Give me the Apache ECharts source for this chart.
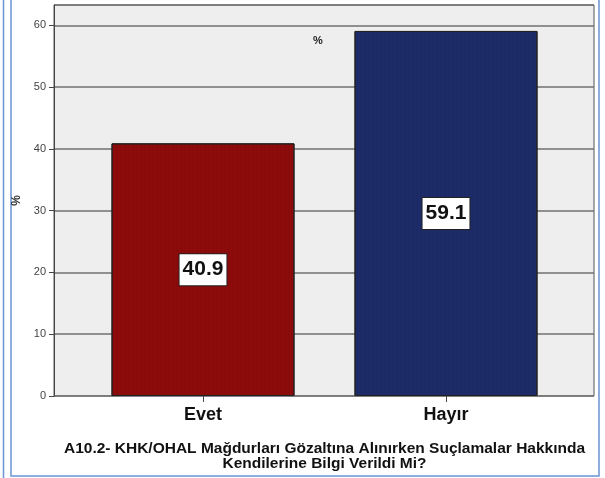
<!DOCTYPE html>
<html>
<head>
<meta charset="utf-8">
<script src="https://cdn.jsdelivr.net/npm/echarts@6/dist/echarts.min.js"></script>
<style>html,body{margin:0;padding:0;background:#fff;}#c{width:605px;height:478px;}</style>
</head>
<body>
<div id="c"></div>
<script>
const categories = ['Evet', 'Hayır'];
const values = [40.9, 59.1];
const barColors = ['#8e0b0b', '#1d2b68'];
const yTicks = [0, 10, 20, 30, 40, 50, 60];
const axisTitle = 'A10.2- KHK/OHAL Mağdurları Gözaltına Alınırken Suçlamalar Hakkında\nKendilerine Bilgi Verildi Mi?';
const yName = '%';

const chart = echarts.init(document.getElementById('c'), null, {renderer: 'canvas'});
const font = 'Arial, "Liberation Sans", sans-serif';
const yMax = 63.3;

chart.setOption({
  animation: false,
  backgroundColor: '#ffffff',
  grid: [
    {left: 54, top: 5, width: 540, height: 391, show: true, backgroundColor: '#eeeeee', borderColor: '#555', borderWidth: 1, outerBoundsMode: 'none', containLabel: false},
    {left: 81.5, top: 5, width: 486, height: 391, outerBoundsMode: 'none', containLabel: false}
  ],
  xAxis: [
    {gridIndex: 0, type: 'value', min: 0, max: 1, show: false},
    {gridIndex: 1, type: 'category', data: categories,
     axisLine: {show: false},
     axisTick: {show: true, alignWithLabel: true, length: 6, lineStyle: {color: '#444', width: 1}},
     axisLabel: {margin: 10, fontSize: 18, fontWeight: 'bold', color: '#111', fontFamily: font},
     name: axisTitle, nameLocation: 'middle', nameGap: 45,
     nameTextStyle: {fontSize: 15.5, fontWeight: 'bold', lineHeight: 15, color: '#111', fontFamily: font}}
  ],
  yAxis: [
    {gridIndex: 0, type: 'value', min: 0, max: yMax, interval: 10,
     axisLine: {show: true, lineStyle: {color: '#444', width: 1}},
     axisTick: {show: true, length: 5, lineStyle: {color: '#444'}},
     axisLabel: {showMaxLabel: false, margin: 8, fontSize: 11, color: '#444', fontFamily: font,
       formatter: v => yTicks.includes(v) ? String(v) : ''},
     splitLine: {show: true, lineStyle: {color: '#707070', width: 1.5}},
     name: yName, nameLocation: 'middle', nameGap: 30, nameRotate: 90,
     nameTextStyle: {fontSize: 12, fontWeight: 'bold', color: '#333', fontFamily: font}},
    {gridIndex: 1, type: 'value', min: 0, max: yMax, show: false}
  ],
  series: [
    {type: 'line', xAxisIndex: 0, yAxisIndex: 0, data: [], silent: true},
    {type: 'bar', xAxisIndex: 1, yAxisIndex: 1, barWidth: 183,
     data: values.map((v, i) => ({value: v, itemStyle: {color: barColors[i]}})),
     itemStyle: {borderColor: '#222', borderWidth: 1,
       decal: {symbol: 'rect', symbolSize: 0.5, dashArrayX: [2, 2], dashArrayY: [1, 1], color: 'rgba(0,0,0,0.18)'}},
     label: {show: true, position: 'inside', formatter: p => p.value.toFixed(1),
       backgroundColor: '#ffffff', borderColor: '#222', borderWidth: 1, padding: [5, 3, 5, 3],
       fontSize: 21, fontWeight: 'bold', color: '#111', fontFamily: font}}
  ],
  aria: {enabled: false, decal: {show: false}},
  graphic: [
    {type: 'text', left: 313, top: 35, style: {text: '%', font: 'bold 11px Arial', fill: '#222'}},
    {type: 'rect', shape: {x: 11, y: -2, width: 588, height: 478}, style: {fill: 'none', stroke: '#6a95d4', lineWidth: 1.5}, silent: true},
    {type: 'line', shape: {x1: 3.5, y1: 0, x2: 3.5, y2: 478}, style: {stroke: '#6a95d4', lineWidth: 1.5}, silent: true}
  ]
});
</script>
</body>
</html>
